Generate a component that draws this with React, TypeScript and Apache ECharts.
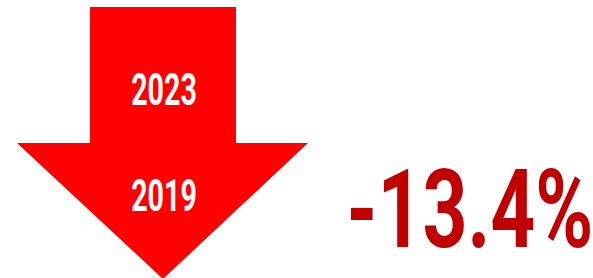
import React, { useEffect, useRef } from "react";
import * as echarts from "echarts";

const yearLabels = ["2023", "2019"];
const changePct = [-13.4];

export default function App() {
  const ref = useRef<HTMLDivElement>(null);
  useEffect(() => {
    if (!ref.current) return;
    const chart = echarts.init(ref.current, null, { renderer: "svg" });
    const pctText = `${changePct[0].toFixed(1)}%`;
    chart.setOption({
      animation: false,
      backgroundColor: "#ffffff",
      graphic: [
        {
          type: "polygon",
          shape: {
            points: [
              [90, 7],
              [236, 7],
              [236, 143],
              [308, 143],
              [163, 279],
              [17, 143],
              [90, 143],
            ],
          },
          style: { fill: "#ff0000" },
        },
        {
          type: "text",
          x: 164,
          y: 90,
          scaleX: 0.65,
          style: {
            text: yearLabels[0],
            fill: "#ffffff",
            font: "bold 44px Roboto",
            align: "center",
            verticalAlign: "middle",
          },
        },
        {
          type: "text",
          x: 164,
          y: 196,
          scaleX: 0.65,
          style: {
            text: yearLabels[1],
            fill: "#ffffff",
            font: "bold 44px Roboto",
            align: "center",
            verticalAlign: "middle",
          },
        },
        {
          type: "text",
          x: 470,
          y: 210,
          scaleX: 0.72,
          style: {
            text: pctText,
            fill: "#c00000",
            font: "bold 109px Roboto",
            align: "center",
            verticalAlign: "middle",
          },
        },
      ],
    });
    return () => chart.dispose();
  }, []);
  return (
    <div
      ref={ref}
      style={{ position: "fixed", left: 0, top: 0, width: 593, height: 278 }}
    />
  );
}
